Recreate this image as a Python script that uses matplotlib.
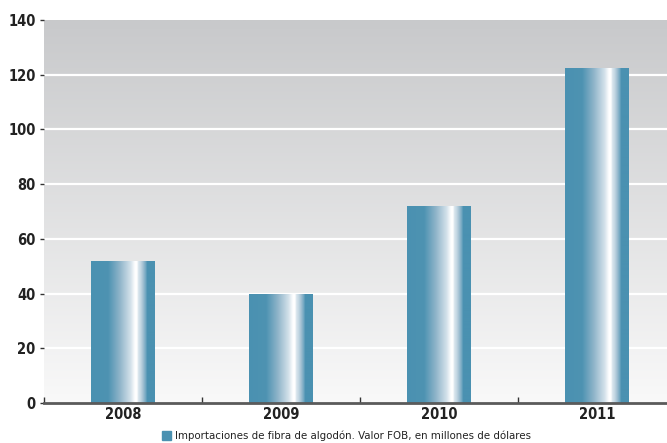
import numpy as np
import matplotlib
matplotlib.use('Agg')
import matplotlib.pyplot as plt
from matplotlib.colors import LinearSegmentedColormap
from matplotlib.patches import Rectangle

# Data
years = ['2008', '2009', '2010', '2011']
values = [52, 40, 72, 122.5]
legend_label = 'Importaciones de fibra de algodón. Valor FOB, en millones de dólares'

blue = '#4a91b1'
bar_cmap = LinearSegmentedColormap.from_list('bar', [
    (0.00, blue), (0.27, '#4e93b2'), (0.45, '#8fb4c9'), (0.62, '#d3e1ea'),
    (0.69, '#ffffff'), (0.72, '#ffffff'), (0.74, '#dbe7ee'), (0.78, '#c2d6e2'),
    (0.82, '#9dbdd0'), (0.86, '#6ea5c0'), (0.88, blue), (1.00, blue)])
bg_cmap = LinearSegmentedColormap.from_list('bg', ['#f9f9f9', '#c8c9cb'])

fig = plt.figure(figsize=(6.67, 4.43), dpi=100)
ax = fig.add_axes([44 / 667, 40 / 443, 632 / 667, 383 / 443])

# background gradient
grad = np.linspace(0, 1, 256).reshape(-1, 1)
ax.imshow(grad, aspect='auto', cmap=bg_cmap, extent=[0, 4, 0, 140],
          origin='lower', zorder=0)

# gridlines
for yv in range(20, 140, 20):
    ax.axhline(yv, color='white', lw=1.6, zorder=1)

# bars with horizontal gradient
width = 0.405
hgrad = np.linspace(0, 1, 256).reshape(1, -1)
for i, v in enumerate(values):
    x0 = i + 0.5 - width / 2
    im = ax.imshow(hgrad, aspect='auto', cmap=bar_cmap,
                   extent=[x0, x0 + width, 0, v], zorder=2)
    im.set_clip_path(Rectangle((x0, 0), width, v, transform=ax.transData))

ax.set_xlim(0, 4)
ax.set_ylim(0, 140)

for s in ['top', 'right', 'left']:
    ax.spines[s].set_visible(False)
ax.spines['bottom'].set_color('#5a5a5a')
ax.spines['bottom'].set_linewidth(2)
ax.spines['bottom'].set_zorder(3)

tick_font = dict(family='DejaVu Sans', stretch='condensed', weight='bold',
                 size=10.5)

ax.set_yticks(range(0, 141, 20))
ax.set_yticklabels([str(t) for t in range(0, 141, 20)], fontdict=tick_font,
                   color='#222222')
ax.tick_params(axis='y', length=3, width=1, color='#333333', pad=3)

ax.set_xticks([0, 1, 2, 3, 4])
ax.set_xticklabels([])
ax.tick_params(axis='x', direction='in', length=4, width=1, color='#333333')
for i, yr in enumerate(years):
    ax.text(i + 0.5, -1.6, yr, ha='center', va='top', color='#222222',
            **tick_font)

# legend
fig.patches.append(Rectangle((162 / 667, 1 - 440 / 443), 9 / 667, 9 / 443,
                             transform=fig.transFigure, color=blue))
fig.text(175 / 667, 1 - 436 / 443, legend_label, ha='left', va='center',
         fontsize=8.2, color='#222222', fontstretch='condensed')

fig.savefig('out.png', dpi=100)
